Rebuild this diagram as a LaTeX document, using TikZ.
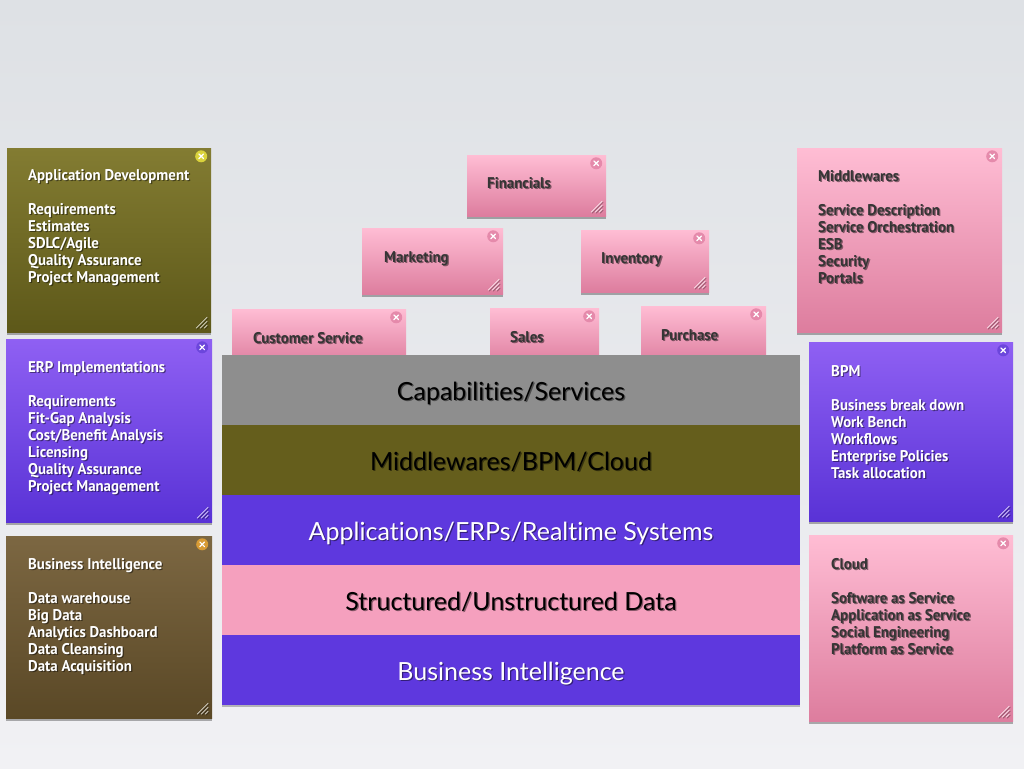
\documentclass[tikz,border=0pt]{standalone}
\usepackage{fontspec}
\setmainfont{Lato}[Ligatures=NoCommon]
\newfontfamily\handfont[FakeStretch=0.96]{PT Sans}
\usetikzlibrary{shadows}

% note and layer colours
\definecolor{bgTop}{HTML}{DEE1E5}
\definecolor{bgMid}{HTML}{E8EAED}
\definecolor{bgBot}{HTML}{F1F1F4}
\definecolor{olvT}{HTML}{837C32}
\definecolor{olvB}{HTML}{5D5819}
\definecolor{olvX}{HTML}{D9D23C}
\definecolor{purT}{HTML}{8F60F3}
\definecolor{purB}{HTML}{5932D6}
\definecolor{purX}{HTML}{6C46DC}
\definecolor{brnT}{HTML}{7C6742}
\definecolor{brnB}{HTML}{5A4826}
\definecolor{brnX}{HTML}{D89B35}
\definecolor{pnkT}{HTML}{FFBDD4}
\definecolor{pnkB}{HTML}{DD7D9E}
\definecolor{pnkX}{HTML}{E58AAB}
\definecolor{inkdark}{HTML}{353535}
\definecolor{capgray}{HTML}{8E8E8E}
\definecolor{olvbar}{HTML}{655E1C}
\definecolor{purbar}{HTML}{5E38DE}
\definecolor{pnkbar}{HTML}{F5A0BE}

\tikzset{
  note/.style={rectangle, inner sep=0pt, draw=none,
    drop shadow={shadow xshift=0pt, shadow yshift=-3pt, opacity=0.3, fill=black}},
  olivenote/.style={note, top color=olvT, bottom color=olvB},
  purplenote/.style={note, top color=purT, bottom color=purB},
  brownnote/.style={note, top color=brnT, bottom color=brnB},
  pinknote/.style={note, top color=pnkT, bottom color=pnkB},
  hand/.style={font=\handfont\bfseries\fontsize{15.5}{17}\selectfont, inner sep=0pt},
  lighttxt/.style={hand, text=white},
  darktxt/.style={hand, text=inkdark},
  txtshadow/.style={text=black, text opacity=0.45},
  layer/.style={rectangle, inner sep=0pt, minimum width=578pt, minimum height=70pt, draw=none},
  laytxt/.style={font=\fontsize{25}{30}\selectfont, inner sep=0pt, anchor=base},
  closex/.style={white, line width=1.2pt, line cap=round},
  gripw/.style={white, opacity=0.8, line width=0.8pt, line cap=round},
  gripd/.style={black, opacity=0.35, line width=0.8pt, line cap=round},
}

% close button in the upper right corner of a note
\newcommand\closebtn[2]{%
  \path ([xshift=-10pt,yshift=-8.5pt]#1.north east) coordinate (#1-x);
  \fill[#2] (#1-x) circle[radius=6];
  \draw[closex] ([shift={(-2.3,-2.3)}]#1-x) -- ([shift={(2.3,2.3)}]#1-x)
                ([shift={(-2.3,2.3)}]#1-x) -- ([shift={(2.3,-2.3)}]#1-x);}

% resize grip in the lower right corner of a note
\newcommand\grip[1]{%
  \path ([xshift=-4pt,yshift=4pt]#1.south east) coordinate (#1-g);
  \foreach \l in {11,7,3}{
    \draw[gripd] ([shift={(-\l+1,1)}]#1-g) -- ([shift={(1,-\l+1)}]#1-g);
    \draw[gripw] ([shift={(-\l,0)}]#1-g) -- ([shift={(0,-\l)}]#1-g);}}

% lines of a note, aligned on the baseline of the first one
\newcommand\notelines[1]{\begin{tabular}[t]{@{}l@{}}#1\end{tabular}}

% handwritten text with a soft shadow behind it
\newcommand\notetext[4]{%
  \node[#3, txtshadow, anchor=base west, xshift=1.2pt, yshift=-1.6pt] (#1-shadow) at (#2) {\notelines{#4}};
  \node[#3, anchor=base west] (#1) at (#2) {\notelines{#4}};}

% one band of the layer stack
\newcommand\layerband[5]{%
  \node[layer, fill=#3] (#1) at (511,#2) {};
  \node[laytxt, text=black, text opacity=0.45, xshift=1.2pt, yshift=-1.6pt] (#1-shadow) at ([yshift=-10pt]#1.center) {#5};
  \node[laytxt, text=#4] (#1-t) at ([yshift=-10pt]#1.center) {#5};}

\begin{document}
\begin{tikzpicture}[x=1pt,y=-1pt]
  \shade[top color=bgTop, middle color=bgMid, bottom color=bgBot] (0,0) rectangle (1024,768);
  \useasboundingbox (0,0) rectangle (1024,768);

  % capability notes above the stack
  \node[pinknote, minimum width=139pt, minimum height=61pt] (fin) at (536.5,185.5) {};
  \closebtn{fin}{pnkX}\grip{fin}
  \notetext{fin-t}{487,188}{darktxt}{Financials}

  \node[pinknote, minimum width=141pt, minimum height=66pt] (mkt) at (432.5,261) {};
  \closebtn{mkt}{pnkX}\grip{mkt}
  \notetext{mkt-t}{384,262}{darktxt}{Marketing}

  \node[pinknote, minimum width=128pt, minimum height=62pt] (inv) at (645,261) {};
  \closebtn{inv}{pnkX}\grip{inv}
  \notetext{inv-t}{601,263}{darktxt}{Inventory}

  \node[pinknote, minimum width=174pt, minimum height=56pt] (cus) at (319,337) {};
  \closebtn{cus}{pnkX}
  \notetext{cus-t}{253,343}{darktxt}{Customer Service}

  \node[pinknote, minimum width=109pt, minimum height=57pt] (sal) at (544.5,336.5) {};
  \closebtn{sal}{pnkX}
  \notetext{sal-t}{510,342}{darktxt}{Sales}

  \node[pinknote, minimum width=125pt, minimum height=59pt] (pur) at (703.5,335.5) {};
  \closebtn{pur}{pnkX}
  \notetext{pur-t}{661,340}{darktxt}{Purchase}

  % layer stack
  \layerband{capab}{390}{capgray}{black}{Capabilities/Services}
  \layerband{midl}{460}{olvbar}{black}{Middlewares/BPM/Cloud}
  \layerband{apps}{530}{purbar}{white}{Applications/ERPs/Realtime Systems}
  \layerband{data}{600}{pnkbar}{black}{Structured/Unstructured Data}
  \node[layer, fill=purbar, drop shadow={shadow xshift=0pt, shadow yshift=-2pt, opacity=0.25, fill=black}] (bi) at (511,670) {};
  \node[laytxt, text=black, text opacity=0.45, xshift=1.2pt, yshift=-1.6pt] (bi-shadow) at ([yshift=-10pt]bi.center) {Business Intelligence};
  \node[laytxt, text=white] (bi-t) at ([yshift=-10pt]bi.center) {Business Intelligence};

  % notes on the left
  \node[olivenote, minimum width=204pt, minimum height=184pt] (appdev) at (109,240) {};
  \closebtn{appdev}{olvX}\grip{appdev}
  \notetext{appdev-t}{28,180}{lighttxt}{Application Development\\[17pt]Requirements\\Estimates\\SDLC/Agile\\Quality Assurance\\Project Management}

  \node[purplenote, minimum width=206pt, minimum height=183pt] (erp) at (109,430.5) {};
  \closebtn{erp}{purX}\grip{erp}
  \notetext{erp-t}{28,372}{lighttxt}{ERP Implementations\\[17pt]Requirements\\Fit-Gap Analysis\\Cost/Benefit Analysis\\Licensing\\Quality Assurance\\Project Management}

  \node[brownnote, minimum width=206pt, minimum height=182pt] (bin) at (109,627) {};
  \closebtn{bin}{brnX}\grip{bin}
  \notetext{bin-t}{28,569}{lighttxt}{Business Intelligence\\[17pt]Data warehouse\\Big Data\\Analytics Dashboard\\Data Cleansing\\Data Acquisition}

  % notes on the right
  \node[pinknote, minimum width=205pt, minimum height=184pt] (mid) at (899.5,240) {};
  \closebtn{mid}{pnkX}\grip{mid}
  \notetext{mid-t}{818,181}{darktxt}{Middlewares\\[17pt]Service Description\\Service Orchestration\\ESB\\Security\\Portals}

  \node[purplenote, minimum width=204pt, minimum height=179pt] (bpm) at (911,431.5) {};
  \closebtn{bpm}{purX}\grip{bpm}
  \notetext{bpm-t}{831,376}{lighttxt}{BPM\\[17pt]Business break down\\Work Bench\\Workflows\\Enterprise Policies\\Task allocation}

  \node[pinknote, minimum width=204pt, minimum height=186pt] (cld) at (911,628) {};
  \closebtn{cld}{pnkX}\grip{cld}
  \notetext{cld-t}{831,569}{darktxt}{Cloud\\[17pt]Software as Service\\Application as Service\\Social Engineering\\Platform as Service}
\end{tikzpicture}
\end{document}
